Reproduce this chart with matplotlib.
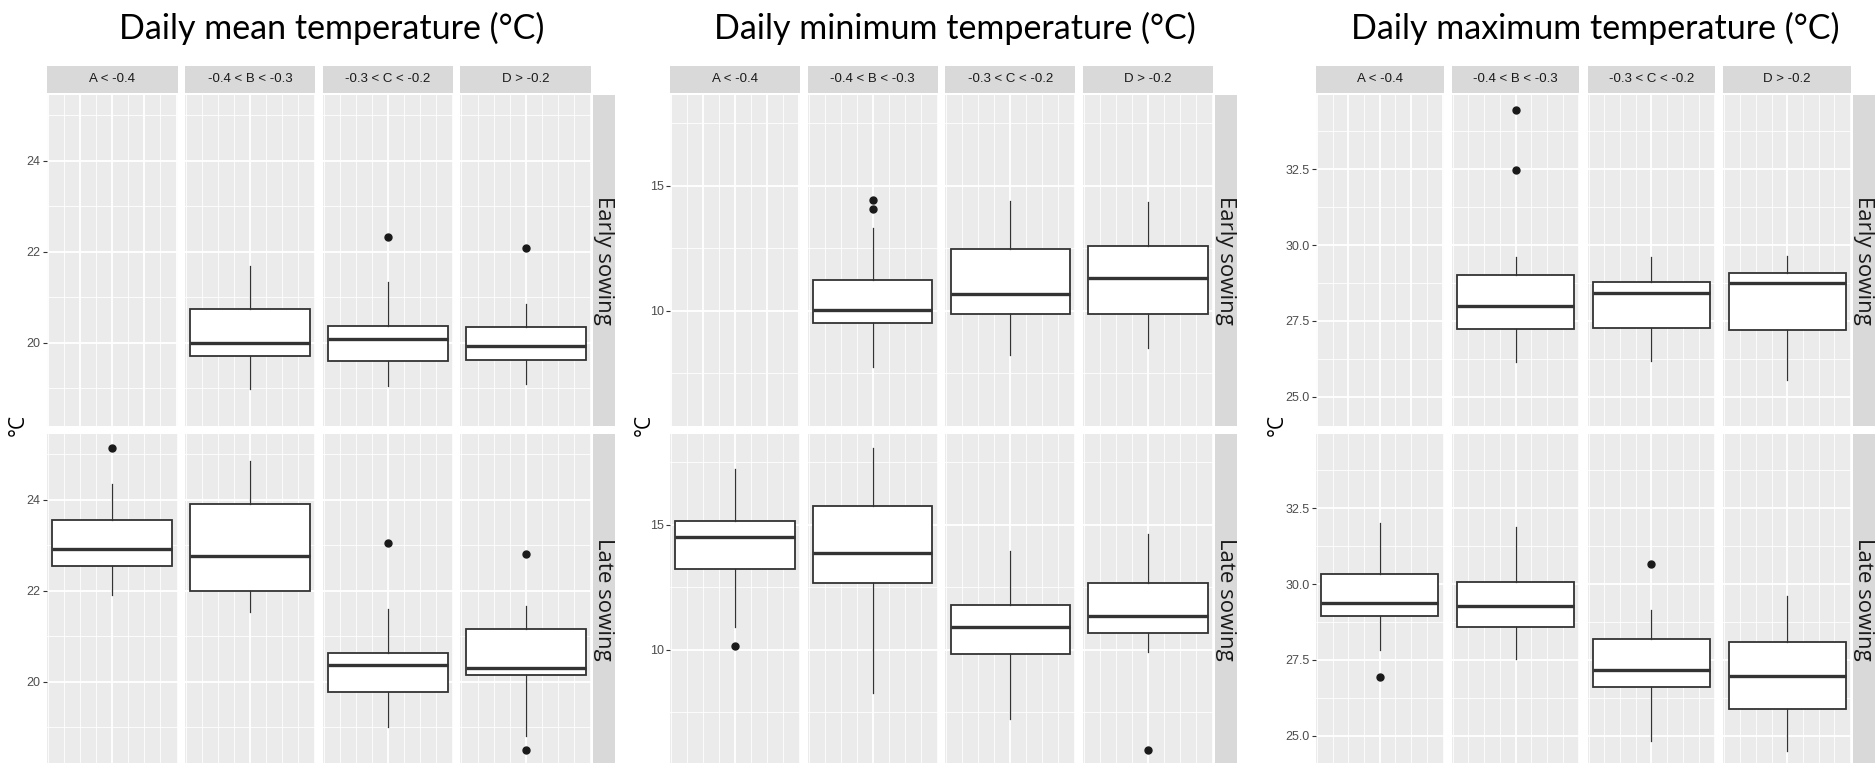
import matplotlib
matplotlib.use("Agg")
import matplotlib.pyplot as plt
from matplotlib.ticker import MultipleLocator, FormatStrFormatter

# facets
categories = ["A < -0.4", "-0.4 < B < -0.3", "-0.3 < C < -0.2", "D > -0.2"]
sowings = ["Early sowing", "Late sowing"]
titles = ["Daily mean temperature (°C)", "Daily minimum temperature (°C)",
          "Daily maximum temperature (°C)"]

# box summaries per class: lower whisker, Q1, median, Q3, upper whisker (None = no data)
mean_early = [None, [18.98, 19.71, 19.99, 20.74, 21.69],
              [19.04, 19.59, 20.07, 20.37, 21.33], [19.09, 19.62, 19.93, 20.34, 20.85]]
mean_early_out = [[], [], [22.32], [22.08]]
mean_late = [[21.91, 22.53, 22.92, 23.55, 24.35], [21.53, 21.99, 22.75, 23.90, 24.84],
             [19.00, 19.77, 20.37, 20.63, 21.60], [18.80, 20.15, 20.30, 21.16, 21.67]]
mean_late_out = [[25.13], [], [23.05], [22.81, 18.51]]

min_early = [None, [7.76, 9.52, 10.04, 11.23, 13.29],
             [8.23, 9.87, 10.67, 12.47, 14.40], [8.51, 9.89, 11.33, 12.60, 14.33]]
min_early_out = [[], [14.43, 14.07], [], []]
min_late = [[10.90, 13.21, 14.50, 15.14, 17.22], [8.29, 12.65, 13.88, 15.73, 18.06],
            [7.22, 9.83, 10.90, 11.80, 13.96], [9.92, 10.67, 11.35, 12.68, 14.62]]
min_late_out = [[10.16], [], [], [5.98]]

max_early = [None, [26.14, 27.24, 27.99, 29.02, 29.59],
             [26.17, 27.25, 28.41, 28.78, 29.59], [25.54, 27.19, 28.75, 29.09, 29.65]]
max_early_out = [[], [34.47, 32.46], [], []]
max_late = [[27.84, 28.96, 29.36, 30.33, 32.03], [27.54, 28.57, 29.28, 30.07, 31.88],
            [24.81, 26.61, 27.16, 28.19, 29.14], [24.49, 25.89, 26.96, 28.09, 29.61]]
max_late_out = [[26.94], [], [30.65], []]

y_limits = [(18.17, 25.44), (5.40, 18.62), (24.03, 34.95)]
y_steps = [2, 5, 2.5]
y_formats = ["%d", "%d", "%.1f"]

panels = [
    [(mean_early, mean_early_out), (mean_late, mean_late_out)],
    [(min_early, min_early_out), (min_late, min_late_out)],
    [(max_early, max_early_out), (max_late, max_late_out)],
]

# layout in pixels
W, H = 1875, 763
group_span = [(47, 591, 7.3), (670, 1213, 7.3), (1316, 1851, 8.3)]
title_x = [332, 955, 1595]
ylabel_x = [18, 644, 1277]
row_top = [95, 434]
row_h = 331
strip_top, strip_h = 66, 27
rstrip_w = 22

small = ["Liberation Sans", "DejaVu Sans"]
edge = "#333333"

fig = plt.figure(figsize=(W / 100, H / 100), dpi=100)


def px_axes(x, y, w, h):
    return fig.add_axes([x / W, 1 - (y + h) / H, w / W, h / H])


def strip(x, y, w, h, text, **kw):
    s = px_axes(x, y, w, h)
    s.set_facecolor("#D9D9D9")
    s.set_xticks([])
    s.set_yticks([])
    for sp in s.spines.values():
        sp.set_visible(False)
    s.text(0.5, 0.5, text, transform=s.transAxes, ha="center", va="center", **kw)


for g in range(3):
    left, right, gap = group_span[g]
    pw = (right - left - 3 * gap) / 4
    fig.text(title_x[g] / W, 1 - 28 / H, titles[g], family="Lato", fontsize=24.5,
             ha="center", va="center")
    fig.text(ylabel_x[g] / W, 1 - 425 / H, "°C", family="Open Sans", fontsize=15,
             rotation=90, ha="center", va="center")

    for c in range(4):
        x0 = left + c * (pw + gap)
        strip(x0, strip_top, pw, strip_h, categories[c], family=small,
              fontsize=9.5, color="#1A1A1A")

    for r in range(2):
        stats, outs = panels[g][r]
        for c in range(4):
            x0 = left + c * (pw + gap)
            ax = px_axes(x0, row_top[r], pw, row_h)
            ax.set_facecolor("#EBEBEB")
            ax.set_axisbelow(True)
            for sp in ax.spines.values():
                sp.set_visible(False)
            ax.set_xlim(-4.06, 4.06)
            ax.set_ylim(*y_limits[g])
            ax.xaxis.set_major_locator(MultipleLocator(2))
            ax.xaxis.set_minor_locator(MultipleLocator(1))
            ax.yaxis.set_major_locator(MultipleLocator(y_steps[g]))
            ax.yaxis.set_minor_locator(MultipleLocator(y_steps[g] / 2))
            ax.grid(which="major", color="white", linewidth=1.3)
            ax.grid(which="minor", color="white", linewidth=0.6)
            ax.tick_params(axis="x", which="both", length=0, labelbottom=False)
            ax.tick_params(axis="y", which="minor", length=0)
            if c == 0:
                ax.yaxis.set_major_formatter(FormatStrFormatter(y_formats[g]))
                ax.tick_params(axis="y", which="major", length=3, width=0.8,
                               color=edge, labelcolor="#4D4D4D", pad=1.5)
                for lab in ax.get_yticklabels():
                    lab.set_family(small)
                    lab.set_fontsize(9)
            else:
                ax.tick_params(axis="y", which="major", length=0, labelleft=False)

            s = stats[c]
            if s is not None:
                box = dict(whislo=s[0], q1=s[1], med=s[2], q3=s[3], whishi=s[4],
                           fliers=outs[c])
                ax.bxp([box], positions=[0], widths=[7.44], patch_artist=True,
                       showcaps=False,
                       boxprops=dict(facecolor="white", edgecolor=edge, linewidth=1.3),
                       medianprops=dict(color=edge, linewidth=2.4),
                       whiskerprops=dict(color=edge, linewidth=0.9),
                       flierprops=dict(marker="o", markerfacecolor="#1A1A1A",
                                       markeredgecolor="#1A1A1A", markersize=5))
            elif outs[c]:
                ax.plot([0] * len(outs[c]), outs[c], "o", color="#1A1A1A", markersize=5)

        strip(right + 1.5, row_top[r], rstrip_w, row_h, sowings[r],
              family="Open Sans", fontsize=16, rotation=270, color="#1A1A1A")

fig.savefig("out.png", dpi=100)
